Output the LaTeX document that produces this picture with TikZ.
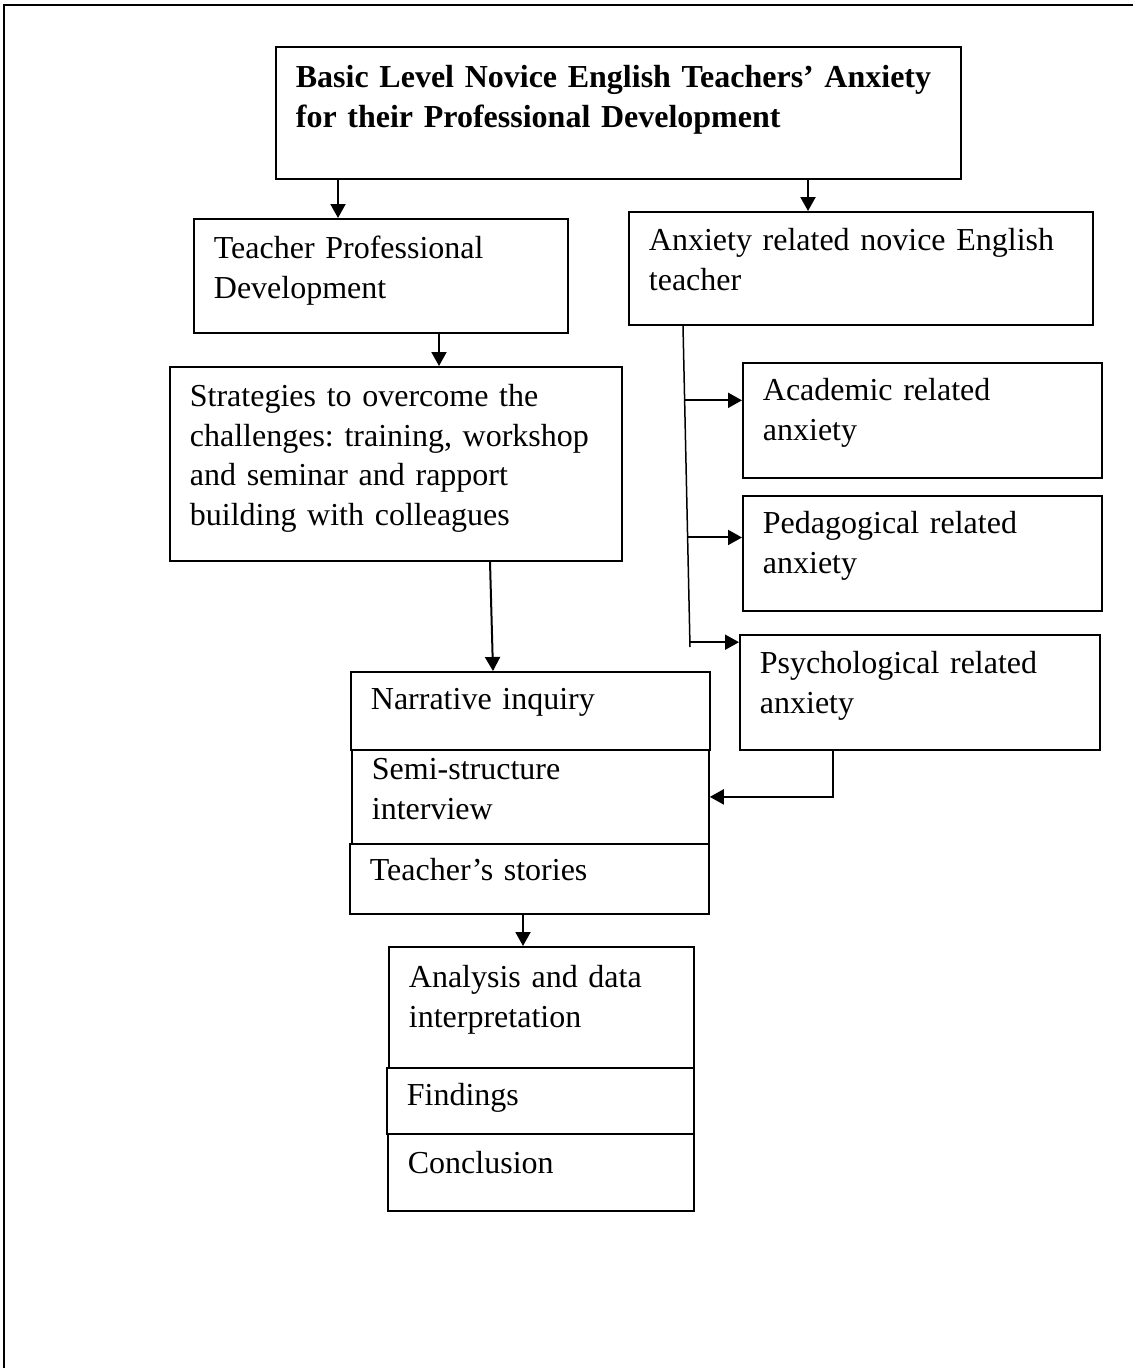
\documentclass[tikz,border=0pt]{standalone}
\usepackage{fontspec}
\setmainfont{Liberation Serif}
\frenchspacing
\usetikzlibrary{arrows.meta,calc}

\begin{document}
\begin{tikzpicture}[x=1pt,y=-1pt,
    box/.style={draw, line width=1.8pt, anchor=north west, align=left,
      inner xsep=20pt, inner ysep=0pt, font=\fontsize{32}{39.5}\selectfont},
    arr/.style={line width=2pt, -{Triangle[length=14pt,width=15pt]}},
    trunk/.style={line width=1.5pt}]
        \useasboundingbox (0,0) rectangle (1133,1368);

        % Page frame (only top and left edges show)
        \draw[line width=2pt] (4,1368) -- (4,5) -- (1133,5);

        % Title
        \node[box, font=\fontsize{32}{40}\selectfont\bfseries, text width=645pt, text height=41pt, text depth=91pt] (title) at (275,46)
            {Basic Level Novice English Teachers’ Anxiety\\for their Professional Development};

        % Left branch
        \node[box, text width=334pt, text height=40pt, text depth=74pt] (tpd) at (193,218)
            {Teacher Professional\\Development};
        \node[box, text width=412pt, text height=40pt, text depth=154pt] (strategies) at (169,366)
            {Strategies to overcome the\\challenges: training, workshop\\and seminar and rapport\\building with colleagues};

        % Right branch
        \node[box, text width=424pt, text height=39pt, text depth=74pt] (anxiety) at (628,211)
            {Anxiety related novice English\\teacher};
        \node[box, text width=319pt, text height=38pt, text depth=77pt] (academic) at (742,362)
            {Academic related\\anxiety};
        \node[box, text width=319pt, text height=38pt, text depth=77pt] (pedagogical) at (742,495)
            {Pedagogical related\\anxiety};
        \node[box, text width=320pt, text height=39pt, text depth=76pt] (psychological) at (739,634)
            {Psychological related\\anxiety};

        % Method stack
        \node[box, text width=319pt, text height=38pt, text depth=40pt] (narrative) at (350,671) {Narrative inquiry};
        \node[box, text width=317pt, text height=30pt, text depth=64pt] (semi) at (351,749) {Semi-structure\\interview};
        \node[box, text width=319pt, text height=37pt, text depth=33pt] (stories) at (349,843) {Teacher’s stories};

        % Results stack
        \node[box, text width=265pt, text height=41pt, text depth=80pt] (analysis) at (388,946) {Analysis and data\\interpretation};
        \node[box, text width=267pt, text height=38pt, text depth=28pt] (findings) at (386,1067) {Findings};
        \node[box, text width=266pt, text height=40pt, text depth=37pt] (conclusion) at (387,1133) {Conclusion};

        % Arrows
        \draw[arr] ([xshift=63pt]title.south west) -- ([xshift=145pt]tpd.north west);
        \draw[arr] ([xshift=533pt]title.south west) -- ([xshift=180pt]anxiety.north west);
        \draw[arr] ([xshift=246pt]tpd.south west) -- ([xshift=270pt]strategies.north west);
        \draw[arr] ([xshift=321pt]strategies.south west) -- ([xshift=143pt]narrative.north west);
        \draw[arr] ([xshift=174pt]stories.south west) -- ([xshift=135pt]analysis.north west);
        \draw[arr] ([xshift=94pt]psychological.south west) |- (semi.east);

        % Trunk with the three anxiety types
        \coordinate (trunkend) at (690,647);
        \draw[trunk] ([xshift=55pt]anxiety.south west) coordinate (t0) -- (trunkend);
        \foreach \n/\f in {academic/0.232, pedagogical/0.659, psychological/0.985} {
            \coordinate (p) at ($(t0)!\f!(trunkend)$);
            \draw[arr] (p) -- (\n.west |- p);
        }

    \end{tikzpicture}
\end{document}
